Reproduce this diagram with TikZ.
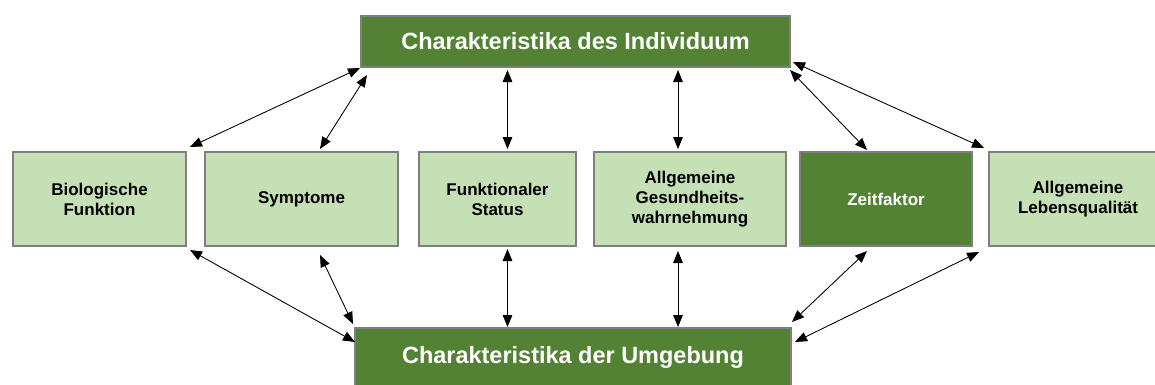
\documentclass[tikz,border=0pt]{standalone}
\usepackage{fontspec}
\setmainfont{Liberation Sans}
\usetikzlibrary{arrows.meta,positioning,calc}
\definecolor{Dark}{HTML}{548235}
\definecolor{Light}{HTML}{C5E0B4}
\definecolor{Edge}{HTML}{7F7F7F}

\begin{document}
\begin{tikzpicture}[x=0.25mm,y=-0.25mm,>={Triangle[length=3mm,width=2.4mm]},
  every node/.style={align=center,font=\fontsize{12.1}{14.2}\selectfont\bfseries},
  item/.style={draw=Edge,line width=0.5mm,fill=Light,minimum height=23.5mm,inner sep=0pt},
  key/.style={draw=Edge,line width=0.5mm,fill=Dark,text=white},
  head/.style={key,font=\fontsize{16.7}{20}\selectfont\bfseries},
  link/.style={<->,line width=0.22mm}]
  \useasboundingbox (0,0) rectangle (1155,385);
  % the two frames
  \node[head,minimum width=107.25mm,minimum height=12.75mm] (ind) at (575.5,41.5) {Charakteristika des Individuum};
  \node[head,minimum width=109mm,minimum height=14.75mm] (umg) at (573,357.5) {Charakteristika der Umgebung};
  % middle row
  \node[item,minimum width=43.25mm] (bio) at (99.5,199) {Biologische\\Funktion};
  \node[item,minimum width=48.25mm,right=4.25mm of bio] (sym) {Symptome};
  \node[item,minimum width=39.25mm,right=4.75mm of sym] (fkt) {Funktionaler\\Status};
  \node[item,minimum width=48mm,right=4mm of fkt] (ges) {Allgemeine\\Gesundheits-\\wahrnehmung};
  \node[item,key,minimum width=43mm,right=3mm of ges] (zeit) {Zeitfaktor};
  \node[item,minimum width=44.5mm,right=3.75mm of zeit] (leb) {Allgemeine\\Lebensqualität};
  % links to the top
  \draw[link] (ind.south west) -- ([shift={(3,-4)}]bio.north east);
  \draw[link] ([shift={(7,7)}]ind.south west) -- ([shift={(18.5,-2)}]sym.north);
  \draw[link] ($(fkt.north |- ind.south)+(10,2)$) -- ([shift={(10,-2)}]fkt.north);
  \draw[link] ($(ges.north |- ind.south)+(-12,2)$) -- ([shift={(-12,-2)}]ges.north);
  \draw[link] ([shift={(-1,2)}]ind.south east) -- ([shift={(-19,-1)}]zeit.north);
  \draw[link] ([shift={(2,-6)}]ind.south east) -- ([shift={(-4,-3)}]leb.north west);
  % links to the bottom
  \draw[link] ([shift={(3,3)}]bio.south east) -- ([shift={(1,15)}]umg.north west);
  \draw[link] ([shift={(18.5,8)}]sym.south) -- ([shift={(-1,-3)}]umg.north west);
  \draw[link] ([shift={(10,2)}]fkt.south) -- ($(fkt.south |- umg.north)+(10,0)$);
  \draw[link] ([shift={(-12,4)}]ges.south) -- ($(ges.south |- umg.north)+(-12,0)$);
  \draw[link] ([shift={(-19,4)}]zeit.south) -- ([shift={(0,-5)}]umg.north east);
  \draw[link] ([shift={(-9,5)}]leb.south west) -- ([shift={(3,15)}]umg.north east);
\end{tikzpicture}
\end{document}
